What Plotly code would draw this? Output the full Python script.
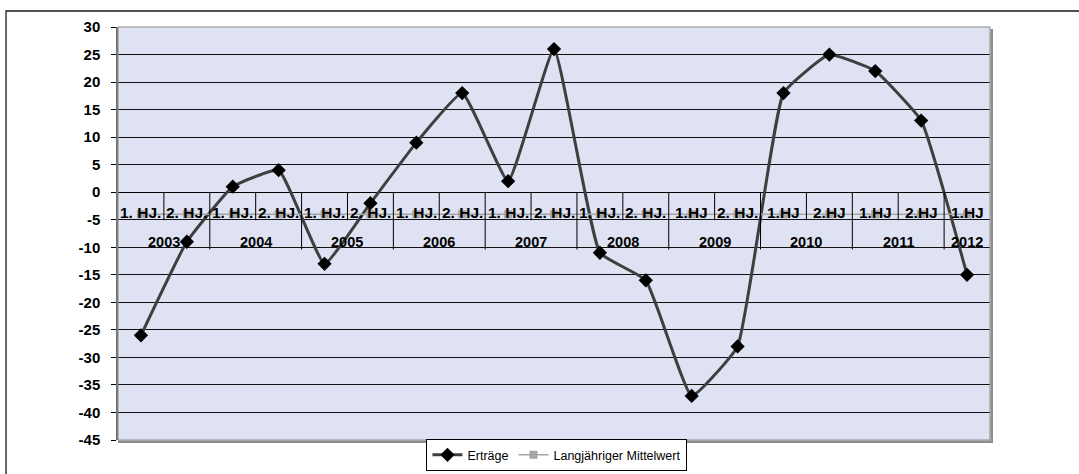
import plotly.graph_objects as go

# Half-year periods and yearly returns
years = ["2003", "2003", "2004", "2004", "2005", "2005", "2006", "2006", "2007", "2007",
         "2008", "2008", "2009", "2009", "2010", "2010", "2011", "2011", "2012"]
halves = ["1. HJ.", "2. HJ.", "1. HJ.", "2. HJ.", "1. HJ.", "2. HJ.", "1. HJ.", "2. HJ.",
          "1. HJ.", "2. HJ.", "1. HJ.", "2. HJ.", "1.HJ", "2. HJ.", "1.HJ", "2.HJ",
          "1.HJ", "2.HJ", "1.HJ"]
ertraege = [-26, -9, 1, 4, -13, -2, 9, 18, 2, 26, -11, -16, -37, -28, 18, 25, 22, 13, -15]
mittelwert = [-4, -4, -4, -4, -4, -4, -4, -4, -4, -4, -4, -4, -4, -4, -4, -4, -4, -4, -4]
y_ticks = [30, 25, 20, 15, 10, 5, 0, -5, -10, -15, -20, -25, -30, -35, -40, -45]

idx = list(range(len(years)))
FONT = "Liberation Sans, Arial, sans-serif"

fig = go.Figure()
fig.add_trace(go.Scatter(
    x=idx, y=ertraege, name="Erträge", mode="lines+markers",
    line=dict(color="#3f3f3f", width=3, shape="spline", smoothing=0.35),
    marker=dict(symbol="diamond", size=11, color="#000000"),
    hoverinfo="skip",
))
fig.add_trace(go.Scatter(
    x=idx, y=mittelwert, name="Langjähriger Mittelwert", mode="lines+markers",
    line=dict(color="#a6a6a6", width=1.5),
    marker=dict(symbol="square", size=8, color="#a6a6a6"),
    hoverinfo="skip",
))

# Two-level category labels sitting on the zero line
annotations = []
for i, h in enumerate(halves):
    annotations.append(dict(x=i, y=-3.7, xref="x", yref="y", text=f"<b>{h}</b>",
                            showarrow=False, font=dict(family=FONT, size=15.5, color="#000")))
shapes = []
start = 0
for i in range(1, len(years) + 1):
    if i == len(years) or years[i] != years[start]:
        mid = (start + i - 1) / 2
        annotations.append(dict(x=mid, y=-9.0, xref="x", yref="y", text=f"<b>{years[start]}</b>",
                                showarrow=False, font=dict(family=FONT, size=14.5, color="#000")))
        if i < len(years):
            shapes.append(dict(type="line", xref="x", yref="y", x0=i - 0.5, x1=i - 0.5,
                               y0=0, y1=-10.4, line=dict(color="#000", width=1), layer="above"))
        start = i
    elif i < len(years):
        shapes.append(dict(type="line", xref="x", yref="y", x0=i - 0.5, x1=i - 0.5,
                           y0=0, y1=-5.1, line=dict(color="#000", width=1), layer="above"))

# Plot-area frame with a soft shadow on the right and bottom
shapes.append(dict(type="rect", xref="paper", yref="paper", x0=0, x1=1, y0=0, y1=1,
                   line=dict(color="#8c8c8c", width=1), layer="above"))
shapes.append(dict(type="path", xref="paper", yref="paper",
                   path="M 1.002,0.995 L 1.002,-0.004 L 0.0,-0.004",
                   line=dict(color="#8c8c8c", width=2.5), layer="above"))
# Outer chart border
shapes.append(dict(type="path", xref="paper", yref="paper",
                   path="M -0.1284,-0.2 L -0.1284,1.0387 L 1.2,1.0387",
                   line=dict(color="#1a1a1a", width=1.3), layer="above"))

fig.update_layout(
    width=1079, height=474,
    margin=dict(l=118, r=89, t=27, b=34, autoexpand=False),
    paper_bgcolor="#ffffff", plot_bgcolor="#dee2f3",
    font=dict(family=FONT, color="#000"),
    showlegend=True,
    legend=dict(orientation="h", x=0.5034, xanchor="center", y=0.002, yanchor="top",
                bgcolor="#ffffff", bordercolor="#000000", borderwidth=1,
                font=dict(family=FONT, size=12.5, color="#000"),
                itemwidth=30, tracegroupgap=0),
    xaxis=dict(range=[-0.5, len(years) - 0.5], showgrid=False, zeroline=False,
               showticklabels=False, ticks="", showline=False, fixedrange=True),
    yaxis=dict(range=[-45, 30], tickvals=y_ticks,
               ticktext=[f"<b>{v}</b>" for v in y_ticks],
               tickfont=dict(family=FONT, size=15, color="#000"),
               ticklabelstandoff=8,
               showgrid=True, gridcolor="#111111", gridwidth=1,
               zeroline=True, zerolinecolor="#000000", zerolinewidth=1,
               ticks="outside", ticklen=5, tickcolor="#000", tickwidth=1,
               showline=True, linecolor="#6e6e6e", linewidth=1.5, fixedrange=True),
    annotations=annotations, shapes=shapes,
)

fig.write_html("out.html")
